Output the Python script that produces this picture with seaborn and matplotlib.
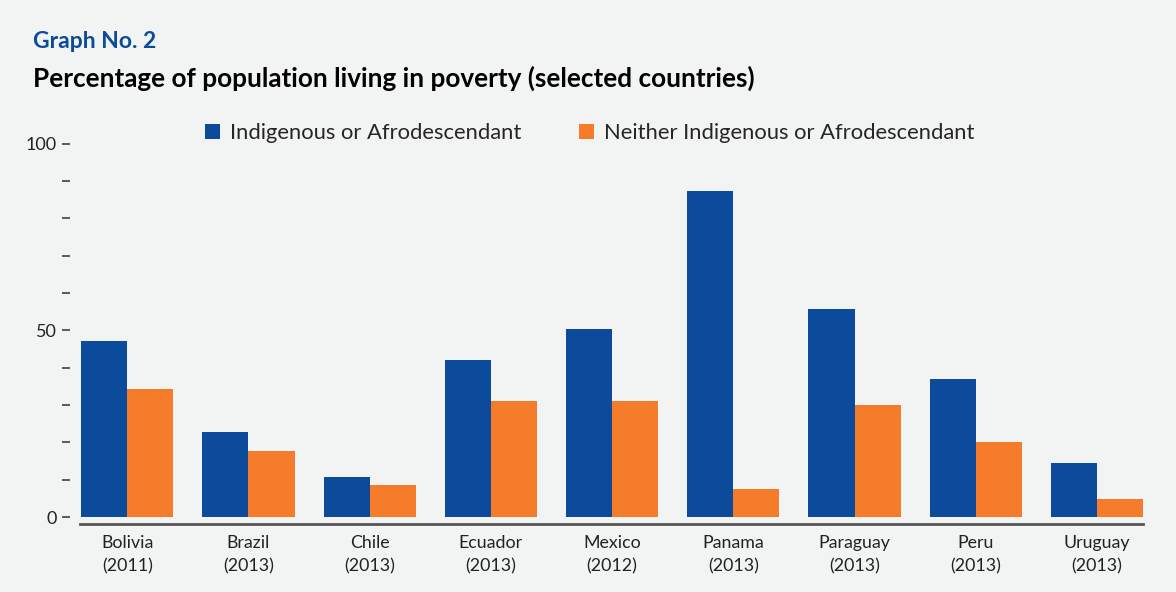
import matplotlib
matplotlib.use("Agg")
import matplotlib.pyplot as plt
import seaborn as sns
import pandas as pd
from matplotlib.patches import Patch

countries = ["Bolivia\n(2011)", "Brazil\n(2013)", "Chile\n(2013)", "Ecuador\n(2013)",
             "Mexico\n(2012)", "Panama\n(2013)", "Paraguay\n(2013)", "Peru\n(2013)",
             "Uruguay\n(2013)"]
indigenous = [47.1, 22.8, 10.7, 42.1, 50.4, 87.3, 55.7, 37.0, 14.5]
neither = [34.3, 17.7, 8.6, 31.1, 31.1, 7.5, 30.0, 20.1, 4.8]
series_names = ["Indigenous or Afrodescendant", "Neither Indigenous or Afrodescendant"]
colors = ["#0C4A9B", "#F47C2B"]
bg = "#F2F3F3"

df = pd.DataFrame({
    "country": countries * 2,
    "value": indigenous + neither,
    "group": [series_names[0]] * len(countries) + [series_names[1]] * len(countries),
})

sns.set_theme(style="white")
plt.rcParams["font.family"] = ["Lato", "DejaVu Sans"]

fig = plt.figure(figsize=(11.76, 5.92), dpi=100, facecolor=bg)
ax = fig.add_axes([80 / 1176, 1 - 517 / 592, (1143 - 80) / 1176, (517 - 143.7) / 592])
ax.set_facecolor(bg)

sns.barplot(data=df, x="country", y="value", hue="group", palette=colors,
            width=0.76, saturation=1, ax=ax, legend=False, linewidth=0)

ax.set_ylim(0, 100)
ax.set_xlim(-0.39, 8.38)
ax.set_xlabel("")
ax.set_ylabel("")

for s in ["top", "right", "left"]:
    ax.spines[s].set_visible(False)
ax.spines["left"].set_position(("outward", 7))
ax.spines["bottom"].set_position(("outward", 5))
ax.spines["bottom"].set_color("#555555")
ax.spines["bottom"].set_linewidth(2)

ax.set_yticks(range(0, 101, 10))
ax.set_yticklabels(["0" if v == 0 else "50" if v == 50 else "100" if v == 100 else "" for v in range(0, 101, 10)])
ax.tick_params(axis="y", direction="out", length=6, width=1.1, color="#333333",
               labelsize=13, labelcolor="#222222", pad=4, left=True)
ax.tick_params(axis="x", length=0, labelsize=12.8, labelcolor="#222222", pad=8)
for lab in ax.get_xticklabels():
    lab.set_linespacing(1.55)

handles = [Patch(facecolor=c, edgecolor="none") for c in colors]
ax.legend(handles, series_names, loc="center left", bbox_to_anchor=(205 / 1176, 1 - 133 / 592),
          bbox_transform=fig.transFigure, ncol=2, frameon=False, fontsize=15.8,
          handlelength=0.7, handleheight=0.7, handletextpad=0.45, columnspacing=2.6,
          borderaxespad=0, borderpad=0)

fig.text(33 / 1176, 1 - 42 / 592, "Graph No. 2", color="#0C4A9B", fontsize=16.5,
         fontweight="bold", va="center", ha="left")
fig.text(33 / 1176, 1 - 78 / 592, "Percentage of population living in poverty (selected countries)",
         color="#000000", fontsize=18.8, fontweight="bold", va="center", ha="left")

fig.savefig("out.png", dpi=100, facecolor=bg)
